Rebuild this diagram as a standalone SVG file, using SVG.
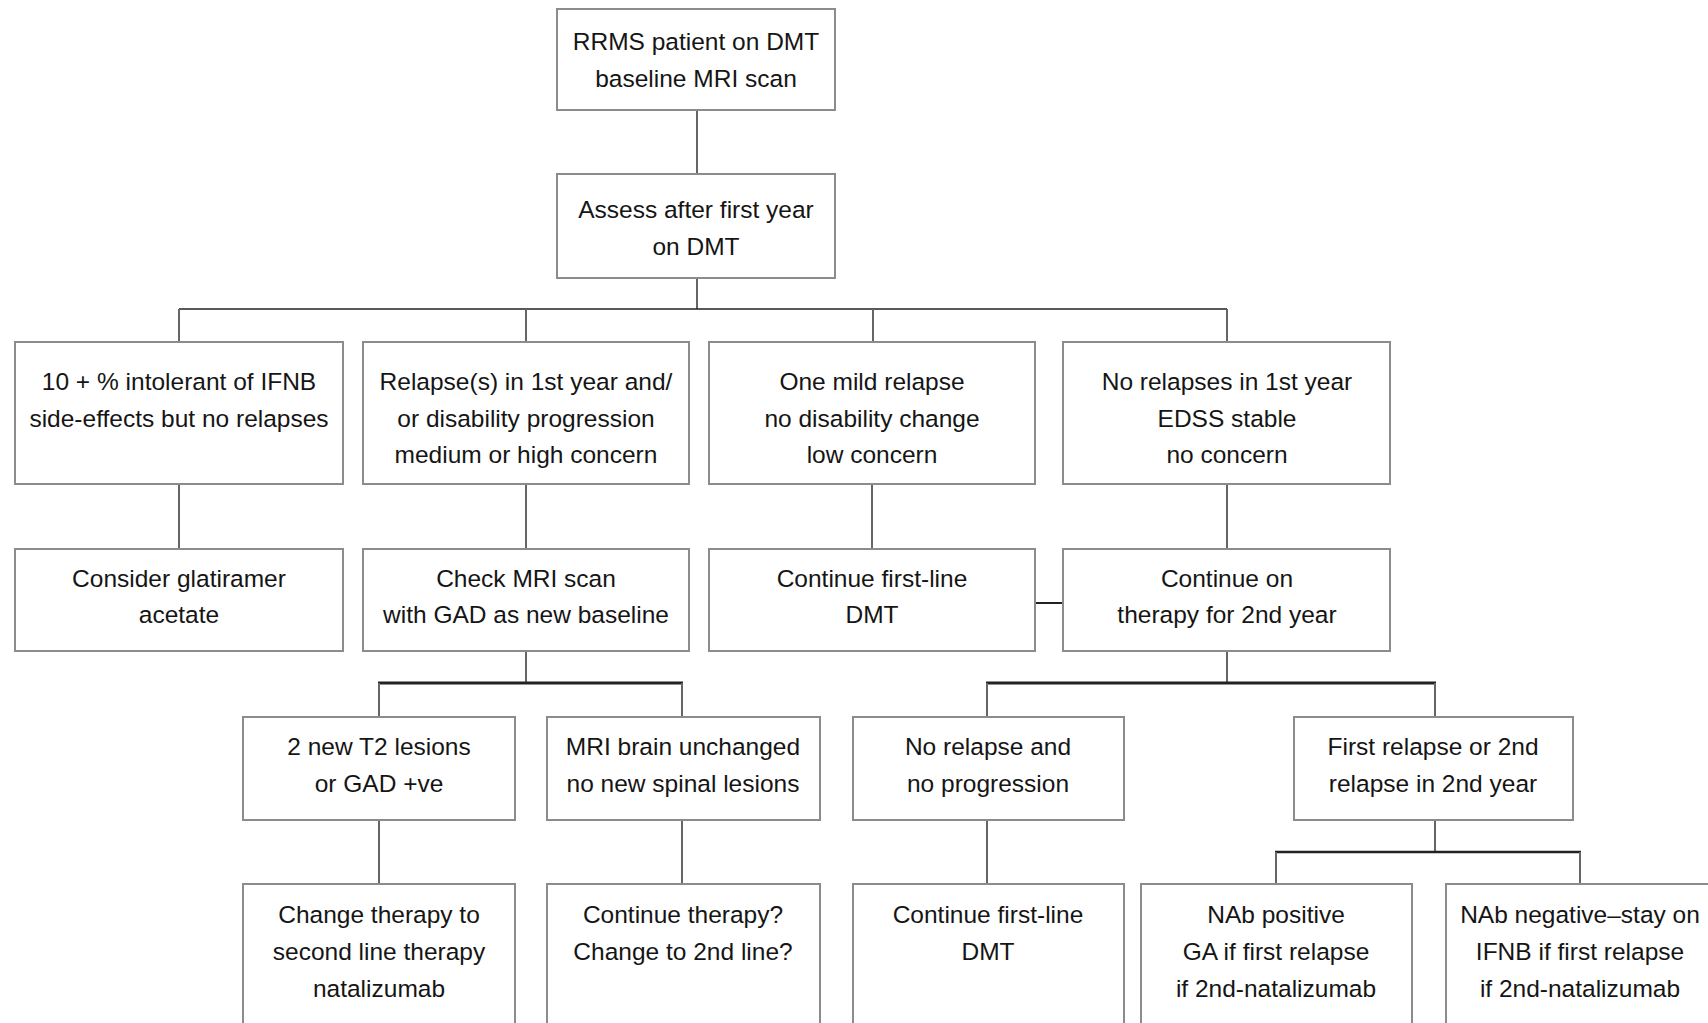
<svg xmlns="http://www.w3.org/2000/svg" width="1708" height="1023" viewBox="0 0 1708 1023">
<style>
.box{fill:#fff;stroke:#8c8c8c;stroke-width:2}
.t{font-family:"Liberation Sans",Arial,sans-serif;font-size:24.5px;fill:#151515;text-anchor:middle}
.v{stroke:#666;stroke-width:2;fill:none}
.h1{stroke:#222;stroke-width:1.6;fill:none}
.h2{stroke:#222;stroke-width:3;fill:none}
</style>
<rect width="1708" height="1023" fill="#fff"/>
<g id="connectors">
<line class="v" x1="697" y1="110" x2="697" y2="174"/>
<line class="v" x1="697" y1="278" x2="697" y2="309"/>
<line class="h1" x1="179" y1="309" x2="1227" y2="309"/>
<line class="v" x1="179" y1="309" x2="179" y2="342"/>
<line class="v" x1="526" y1="309" x2="526" y2="342"/>
<line class="v" x1="873" y1="309" x2="873" y2="342"/>
<line class="v" x1="1227" y1="309" x2="1227" y2="342"/>
<line class="v" x1="179" y1="484" x2="179" y2="549"/>
<line class="v" x1="526" y1="484" x2="526" y2="549"/>
<line class="v" x1="872" y1="484" x2="872" y2="551"/>
<line class="v" x1="1227" y1="484" x2="1227" y2="549"/>
<line class="h1" x1="1035" y1="603" x2="1063" y2="603" style="stroke-width:2"/>
<line class="v" x1="526" y1="651" x2="526" y2="683"/>
<line class="h2" x1="378" y1="683" x2="683" y2="683"/>
<line class="v" x1="379" y1="683" x2="379" y2="717"/>
<line class="v" x1="682" y1="683" x2="682" y2="717"/>
<line class="v" x1="1227" y1="651" x2="1227" y2="683"/>
<line class="h2" x1="986" y1="683" x2="1436" y2="683"/>
<line class="v" x1="987" y1="683" x2="987" y2="717"/>
<line class="v" x1="1435" y1="683" x2="1435" y2="717"/>
<line class="v" x1="379" y1="820" x2="379" y2="884"/>
<line class="v" x1="682" y1="820" x2="682" y2="884"/>
<line class="v" x1="987" y1="820" x2="987" y2="884"/>
<line class="v" x1="1435" y1="820" x2="1435" y2="852"/>
<line class="h2" x1="1275" y1="852" x2="1581" y2="852" style="stroke-width:2.4"/>
<line class="v" x1="1276" y1="852" x2="1276" y2="884"/>
<line class="v" x1="1580" y1="852" x2="1580" y2="884"/>
</g>
<g id="n_start"><rect class="box" x="557" y="9" width="278" height="101"/>
<text class="t" x="696" y="50">RRMS patient on DMT</text><text class="t" x="696" y="87">baseline MRI scan</text></g>
<g id="n_assess"><rect class="box" x="557" y="174" width="278" height="104"/>
<text class="t" x="696" y="218">Assess after first year</text><text class="t" x="696" y="255">on DMT</text></g>
<g id="n_intolerant"><rect class="box" x="15" y="342" width="328" height="142"/>
<text class="t" x="179" y="390">10 + % intolerant of IFNB</text><text class="t" x="179" y="427">side-effects but no relapses</text></g>
<g id="n_relapses"><rect class="box" x="363" y="342" width="326" height="142"/>
<text class="t" x="526" y="390">Relapse(s) in 1st year and/</text><text class="t" x="526" y="427">or disability progression</text><text class="t" x="526" y="463">medium or high concern</text></g>
<g id="n_mild"><rect class="box" x="709" y="342" width="326" height="142"/>
<text class="t" x="872" y="390">One mild relapse</text><text class="t" x="872" y="427">no disability change</text><text class="t" x="872" y="463">low concern</text></g>
<g id="n_norelapse"><rect class="box" x="1063" y="342" width="327" height="142"/>
<text class="t" x="1227" y="390">No relapses in 1st year</text><text class="t" x="1227" y="427">EDSS stable</text><text class="t" x="1227" y="463">no concern</text></g>
<g id="n_glatiramer"><rect class="box" x="15" y="549" width="328" height="102"/>
<text class="t" x="179" y="587">Consider glatiramer</text><text class="t" x="179" y="623">acetate</text></g>
<g id="n_checkmri"><rect class="box" x="363" y="549" width="326" height="102"/>
<text class="t" x="526" y="587">Check MRI scan</text><text class="t" x="526" y="623">with GAD as new baseline</text></g>
<g id="n_continue1"><rect class="box" x="709" y="549" width="326" height="102"/>
<text class="t" x="872" y="587">Continue first-line</text><text class="t" x="872" y="623">DMT</text></g>
<g id="n_continue2"><rect class="box" x="1063" y="549" width="327" height="102"/>
<text class="t" x="1227" y="587">Continue on</text><text class="t" x="1227" y="623">therapy for 2nd year</text></g>
<g id="n_t2"><rect class="box" x="243" y="717" width="272" height="103"/>
<text class="t" x="379" y="755">2 new T2 lesions</text><text class="t" x="379" y="792">or GAD +ve</text></g>
<g id="n_unchanged"><rect class="box" x="547" y="717" width="273" height="103"/>
<text class="t" x="683" y="755">MRI brain unchanged</text><text class="t" x="683" y="792">no new spinal lesions</text></g>
<g id="n_noprog"><rect class="box" x="853" y="717" width="271" height="103"/>
<text class="t" x="988" y="755">No relapse and</text><text class="t" x="988" y="792">no progression</text></g>
<g id="n_firstrelapse"><rect class="box" x="1294" y="717" width="279" height="103"/>
<text class="t" x="1433" y="755">First relapse or 2nd</text><text class="t" x="1433" y="792">relapse in 2nd year</text></g>
<g id="n_change"><rect class="box" x="243" y="884" width="272" height="150"/>
<text class="t" x="379" y="923">Change therapy to</text><text class="t" x="379" y="960">second line therapy</text><text class="t" x="379" y="997">natalizumab</text></g>
<g id="n_continueq"><rect class="box" x="547" y="884" width="273" height="150"/>
<text class="t" x="683" y="923">Continue therapy?</text><text class="t" x="683" y="960">Change to 2nd line?</text></g>
<g id="n_continue3"><rect class="box" x="853" y="884" width="271" height="150"/>
<text class="t" x="988" y="923">Continue first-line</text><text class="t" x="988" y="960">DMT</text></g>
<g id="n_nabpos"><rect class="box" x="1141" y="884" width="271" height="150"/>
<text class="t" x="1276" y="923">NAb positive</text><text class="t" x="1276" y="960">GA if first relapse</text><text class="t" x="1276" y="997">if 2nd-natalizumab</text></g>
<g id="n_nabneg"><rect class="box" x="1446" y="884" width="270" height="150"/>
<text class="t" x="1580" y="923">NAb negative–stay on</text><text class="t" x="1580" y="960">IFNB if first relapse</text><text class="t" x="1580" y="997">if 2nd-natalizumab</text></g>
</svg>
